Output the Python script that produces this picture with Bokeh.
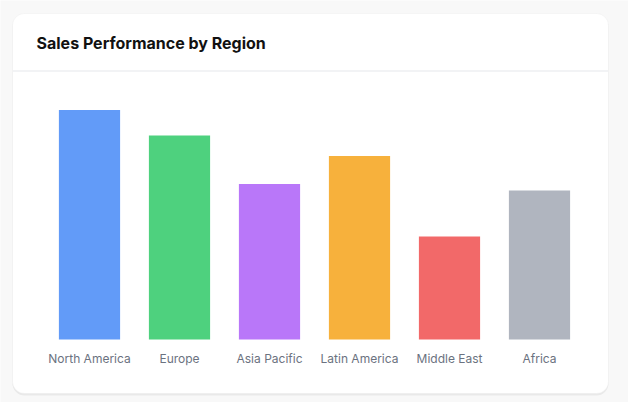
from bokeh.plotting import figure
from bokeh.models import FactorRange, Range1d, BoxAnnotation, ColumnDataSource
from bokeh.core.properties import value
from bokeh.embed import file_html
from bokeh.resources import INLINE

# ---- data ----
categories = ["North America", "Europe", "Asia Pacific", "Latin America", "Middle East", "Africa"]
sales = [450, 400, 305, 360, 202, 292]
colors = ["#3b82f6", "#22c55e", "#a855f7", "#f59e0b", "#ef4444", "#9ca3af"]
title_text = "Sales Performance by Region"

# ---- layout (canvas pixels) ----
W, H = 628, 402
CAT_PX = 90.0
pad_units = (W - len(categories) * CAT_PX) / CAT_PX
x_start = -pad_units / 2
BASE_PY = 339.0      # canvas y (from top) of the zero line
K = 0.51             # pixels per unit


def dx(px):
    return x_start + px / CAT_PX


def dy(py):
    return (BASE_PY - py) / K


p = figure(
    width=W, height=H,
    x_range=FactorRange(*categories, range_padding=pad_units / 2, range_padding_units="absolute"),
    y_range=Range1d(dy(H), dy(0)),
    x_axis_location=None, y_axis_location=None,
    output_backend="svg", toolbar_location=None,
    min_border=0,
)
p.min_border_left = p.min_border_right = p.min_border_top = p.min_border_bottom = 0
p.background_fill_color = "#f8f8f8"
p.border_fill_color = "#f8f8f8"
p.outline_line_color = None
p.grid.visible = False

# card shadow + card
shadow = BoxAnnotation(left=dx(12), right=dx(608), top=dy(14), bottom=dy(395),
                       fill_color="#000000", fill_alpha=0.06, line_color=None,
                       border_radius=12, level="underlay")
card = BoxAnnotation(left=dx(12), right=dx(608), top=dy(13), bottom=dy(393),
                     fill_color="#ffffff", fill_alpha=1.0, line_color="#e5e5e5",
                     line_width=1, border_radius=12, level="underlay")
p.add_layout(shadow)
p.add_layout(card)

# divider
p.segment(x0=[dx(12.5)], y0=[dy(70.5)], x1=[dx(607.5)], y1=[dy(70.5)],
          line_color="#e5e7eb", line_width=1)

# title
p.text(x=[dx(36)], y=[dy(42)], text=[title_text],
       text_font=value("Inter"), text_font_size="16px", text_font_style="bold",
       text_color="#111111", text_align="left", text_baseline="middle")

# bars
src = ColumnDataSource(dict(cat=categories, val=sales, col=colors))
p.vbar(x="cat", top="val", bottom=0, width=0.68, source=src,
       fill_color="col", fill_alpha=0.8, line_color=None)

# category labels
p.text(x=categories, y=[dy(358)] * len(categories), text=categories,
       text_font=value("Inter"), text_font_size="12px",
       text_color="#6b7280", text_align="center", text_baseline="middle")

open("out.html", "w").write(file_html(p, INLINE))
